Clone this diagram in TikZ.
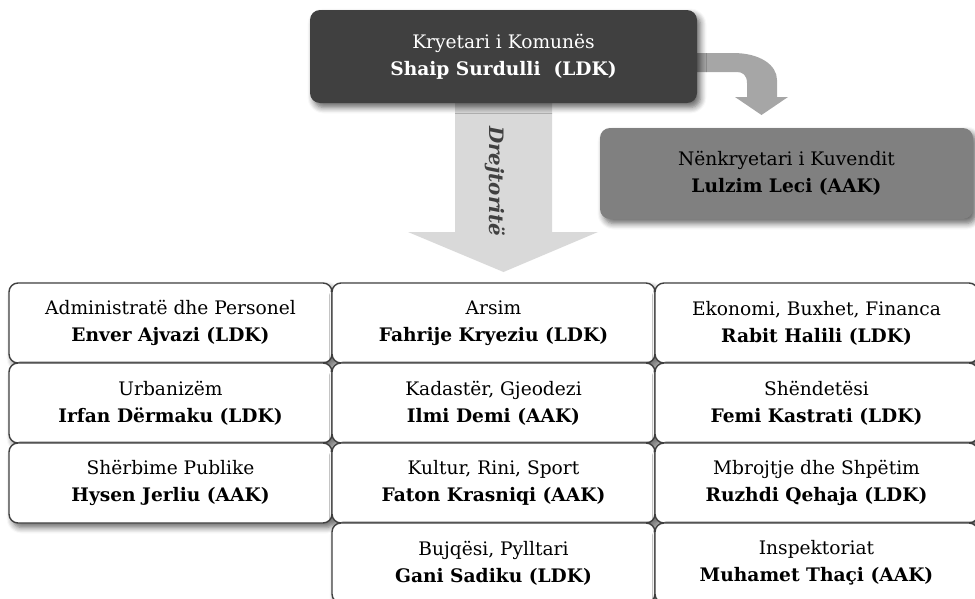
\documentclass[tikz,border=0pt]{standalone}
\usepackage{fontspec}
\setmainfont{DejaVu Serif}
\usetikzlibrary{shadows.blur}

\tikzset{softshadow/.style={blur shadow={shadow xshift=0.07cm,shadow yshift=-0.09cm,shadow blur steps=6,shadow blur radius=0.12cm,shadow opacity=60}}}
\tikzset{chiefbox/.style={rounded corners=0.2cm,fill=black!75,text=white,minimum width=7.74cm,minimum height=1.86cm,align=center,softshadow,font=\fontsize{10.6}{15.3}\selectfont}}
\tikzset{deputybox/.style={rounded corners=0.2cm,fill=black!50,minimum width=7.46cm,minimum height=1.82cm,align=center,softshadow,font=\fontsize{10.6}{15.3}\selectfont}}
\tikzset{dirbox/.style={draw=black!75,line width=0.8pt,rounded corners=0.18cm,fill=white,minimum width=6.46cm,minimum height=1.6cm,align=center,softshadow,font=\fontsize{10.6}{15.3}\selectfont}}

\begin{document}
\begin{tikzpicture}
                  \useasboundingbox (0,0) rectangle (19.5,-11.98);
                  \fill[black!15] (9.1,-1.8) -- (11.04,-1.8) -- (11.04,-4.64) -- (11.96,-4.64) -- (10.07,-5.44) -- (8.16,-4.64) -- (9.1,-4.64) -- cycle;
                  \node[rotate=-90,text=black!75,font=\fontsize{11.3}{12}\selectfont] (dir) at (9.9,-3.62) {\textbf{\textit{Drejtoritë}}};
                  \fill[black!35] (13.5,-1.06) -- (14.66,-1.06) .. controls (15.2,-1.06) and (15.54,-1.3) .. (15.54,-1.6) -- (15.54,-1.94) -- (15.76,-1.94) -- (15.23,-2.3) -- (14.7,-1.94) -- (14.94,-1.94) -- (14.94,-1.66) .. controls (14.94,-1.5) and (14.85,-1.44) .. (14.74,-1.44) -- (13.5,-1.44) -- cycle;
                  \node[chiefbox] (chief) at (10.07,-1.13) {Kryetari i Komunës\\\textbf{Shaip Surdulli\ \ (LDK)}};
                  \node[deputybox] (deputy) at (15.73,-3.47) {Nënkryetari i Kuvendit\\\textbf{Lulzim Leci (AAK)}};
                  \node[dirbox] (admin) at (3.41,-6.46) {Administratë dhe Personel\\\textbf{Enver Ajvazi (LDK)}};
                  \node[dirbox] (arsim) at (9.87,-6.46) {Arsim\\\textbf{Fahrije Kryeziu (LDK)}};
                  \node[dirbox] (ekonomi) at (16.33,-6.46) {Ekonomi, Buxhet, Financa\\\textbf{Rabit Halili (LDK)}};
                  \node[dirbox] (urban) at (3.41,-8.06) {Urbanizëm\\\textbf{Irfan Dërmaku (LDK)}};
                  \node[dirbox] (kadaster) at (9.87,-8.06) {Kadastër, Gjeodezi\\\textbf{Ilmi Demi (AAK)}};
                  \node[dirbox] (shendet) at (16.33,-8.06) {Shëndetësi\\\textbf{Femi Kastrati (LDK)}};
                  \node[dirbox] (sherbime) at (3.41,-9.66) {Shërbime Publike\\\textbf{Hysen Jerliu (AAK)}};
                  \node[dirbox] (kultur) at (9.87,-9.66) {Kultur, Rini, Sport\\\textbf{Faton Krasniqi (AAK)}};
                  \node[dirbox] (mbrojtje) at (16.33,-9.66) {Mbrojtje dhe Shpëtim\\\textbf{Ruzhdi Qehaja (LDK)}};
                  \node[dirbox] (bujqesi) at (9.87,-11.26) {Bujqësi, Pylltari\\\textbf{Gani Sadiku (LDK)}};
                  \node[dirbox] (inspekt) at (16.33,-11.26) {Inspektoriat\\\textbf{Muhamet Thaçi (AAK)}};
              \end{tikzpicture}
\end{document}
